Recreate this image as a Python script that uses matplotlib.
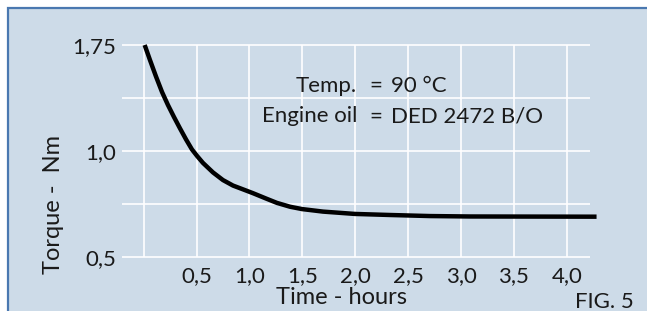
import numpy as np
import matplotlib
matplotlib.use("Agg")
import matplotlib.pyplot as plt
from matplotlib.patches import Rectangle

# values
time_h = [0.01, 0.06, 0.117, 0.174, 0.23, 0.287, 0.344, 0.401, 0.457, 0.505, 0.561,
          0.656, 0.75, 0.845, 0.94, 1.034, 1.166, 1.261, 1.384, 1.497, 1.696, 1.998,
          2.329, 2.707, 3.085, 4.281]
torque_nm = [1.75, 1.644, 1.527, 1.417, 1.325, 1.24, 1.159, 1.081, 1.01, 0.976, 0.943,
             0.898, 0.862, 0.836, 0.818, 0.80, 0.773, 0.754, 0.736, 0.725, 0.713, 0.702,
             0.697, 0.692, 0.690, 0.689]

x_ticks = [0.5, 1.0, 1.5, 2.0, 2.5, 3.0, 3.5, 4.0]
x_labels = ["0,5", "1,0", "1,5", "2,0", "2,5", "3,0", "3,5", "4,0"]
y_grid = [0.5, 0.75, 1.0, 1.375, 1.75]
y_ticks = [0.5, 1.0, 1.75]
y_labels = ["0,5", "1,0", "1,75"]

bg = "#cddbe8"
txt = "#1a1a1a"
fs = 16
plt.rcParams["font.family"] = ["Lato", "DejaVu Sans"]


# the torque axis is not linear: 0,5..1,0 and 1,0..1,75 take equal height
def fwd(v):
    v = np.asarray(v, dtype=float)
    return np.where(v <= 1.0, (v - 0.5) / 0.25, 2 + (v - 1.0) / 0.375)


def inv(p):
    p = np.asarray(p, dtype=float)
    return np.where(p <= 2.0, 0.5 + p * 0.25, 1.0 + (p - 2.0) * 0.375)


W, H = 647, 311
fig = plt.figure(figsize=(W / 100, H / 100), dpi=100)
fig.patch.set_facecolor("white")
fig.patches.append(Rectangle((8 / W, -0.1), 1.2, (H - 8) / H + 0.1,
                             transform=fig.transFigure, facecolor=bg,
                             edgecolor="#4a78b0", linewidth=1.6, zorder=-5))

ax = fig.add_axes([121.7 / W, 54.3 / H, (590 - 121.7) / W, (256.7 - 45) / H])
ax.set_facecolor("none")
ax.set_yscale("function", functions=(fwd, inv))
ax.set_xlim(-0.207, 4.219)
ax.set_ylim(0.5, 1.75)
for s in ax.spines.values():
    s.set_visible(False)

ax.hlines(y_grid, -0.207, 4.219, colors="white", linewidth=1.2, clip_on=False, zorder=1)
ax.vlines([0.0] + x_ticks, 0.5, 1.75, colors="white", linewidth=1.2, clip_on=False, zorder=1)

ax.plot(time_h, torque_nm, color="black", linewidth=3.2, clip_on=False,
        solid_capstyle="butt", solid_joinstyle="round", zorder=3)

ax.set_xticks(x_ticks)
ax.set_xticklabels(x_labels)
ax.set_yticks(y_ticks)
ax.set_yticklabels(y_labels)
ax.yaxis.set_minor_locator(plt.NullLocator())
ax.tick_params(length=0, labelsize=fs, colors=txt)
ax.tick_params(axis="x", pad=7)
ax.tick_params(axis="y", pad=4)

fig.text(342 / W, 1 - 298 / H, "Time - hours", ha="center", va="center", fontsize=17, color=txt)
fig.text(54 / W, 1 - 205 / H, "Torque -  Nm", ha="center", va="center", rotation=90,
         fontsize=17, color=txt)
fig.text(575 / W, 1 - 302 / H, "FIG. 5", ha="left", va="center", fontsize=fs, color=txt)

for yy, left, right in [(86, "Temp.", "90 °C"), (116.5, "Engine oil", "DED 2472 B/O")]:
    fig.text(357 / W, 1 - yy / H, left, ha="right", va="center", fontsize=fs, color=txt)
    fig.text(376 / W, 1 - yy / H, "=", ha="center", va="center", fontsize=fs, color=txt)
    fig.text(391 / W, 1 - yy / H, right, ha="left", va="center", fontsize=fs, color=txt)

fig.savefig("out.png", dpi=100)
